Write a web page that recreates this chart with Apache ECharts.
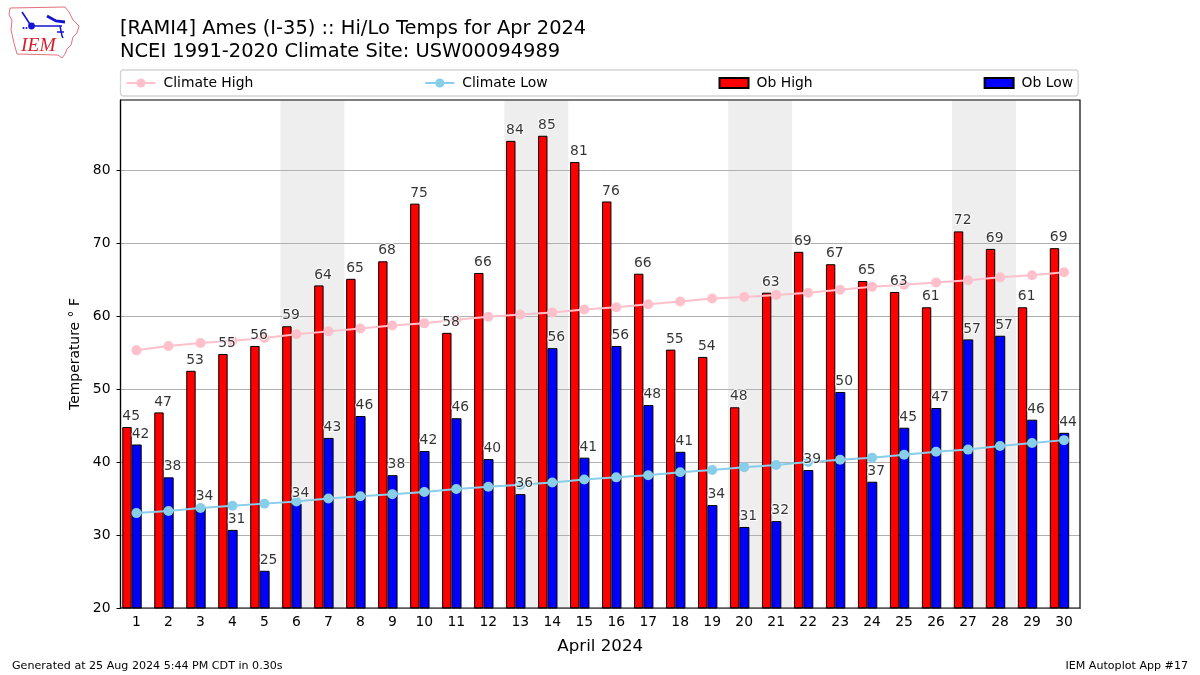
<!DOCTYPE html>
<html>
<head>
<meta charset="utf-8">
<style>html,body{margin:0;padding:0;background:#fff}#c{width:1200px;height:675px}</style>
<script src="https://cdn.jsdelivr.net/npm/echarts@6/dist/echarts.min.js"></script>
</head>
<body>
<div id="c"></div>
<script>
const days = [1,2,3,4,5,6,7,8,9,10,11,12,13,14,15,16,17,18,19,20,21,22,23,24,25,26,27,28,29,30];
const yTicks = [20,30,40,50,60,70,80];
const obHigh = [44.8,46.8,52.5,54.8,55.9,58.6,64.2,65.1,67.5,75.4,57.7,65.9,84.0,84.7,81.1,75.7,65.8,55.4,54.4,47.5,63.2,68.8,67.1,64.8,63.3,61.2,71.6,69.2,61.2,69.3];
const obLow = [42.4,37.9,33.8,30.7,25.1,34.3,43.3,46.3,38.2,41.5,46.0,40.4,35.6,55.6,40.6,55.9,47.8,41.4,34.1,31.1,31.9,38.9,49.6,37.3,44.7,47.4,56.8,57.3,45.8,44.0];
const climateHigh = [55.3,55.9,56.3,56.6,57.0,57.5,57.9,58.3,58.7,59.0,59.5,59.9,60.2,60.5,60.9,61.2,61.6,62.0,62.4,62.6,62.9,63.2,63.6,64.0,64.3,64.6,64.9,65.3,65.6,66.0];
const climateLow = [33.0,33.3,33.7,34.0,34.3,34.6,35.0,35.3,35.6,35.9,36.3,36.6,36.9,37.2,37.6,37.9,38.2,38.6,38.9,39.3,39.6,40.0,40.3,40.6,41.0,41.4,41.7,42.2,42.6,43.0];
const weekends = [[5.5,7.5],[12.5,14.5],[19.5,21.5],[26.5,28.5]];
const titleText = "[RAMI4] Ames (I-35) :: Hi/Lo Temps for Apr 2024\nNCEI 1991-2020 Climate Site: USW00094989";
const yName = "Temperature ° F";
const footerLeft = "Generated at 25 Aug 2024 5:44 PM CDT in 0.30s";
const footerRight = "IEM Autoplot App #17";

const FONT = "DejaVu Sans";
const chart = echarts.init(document.getElementById('c'), null, {renderer:'canvas'});
const labelSeries = (name, data, dx) => ({
  name, type:'scatter', data, symbol:'circle', symbolSize:1, z:6, silent:true,
  itemStyle:{color:'rgba(0,0,0,0)'},
  label:{show:true, position:[dx,-17], color:'#000', fontFamily:FONT, fontSize:13.9,
    textBorderColor:'#fff', textBorderWidth:2, formatter:p=>String(Math.round(p.value))}
});
const logoRed = '#e2707a', logoBlue = '#1414d2';
const rectIcon = 'path://M0,0H29V10H0Z';
chart.setOption({
  animation:false,
  title:[
    {text:titleText,left:120,top:18,padding:0,textStyle:{fontFamily:FONT,fontWeight:'normal',fontSize:19.45,lineHeight:22.5,color:'#000'}},
    {text:footerLeft,left:12,top:661,padding:0,textStyle:{fontFamily:FONT,fontWeight:'normal',fontSize:11.1,color:'#000'}},
    {text:footerRight,right:12,top:661,padding:0,textStyle:{fontFamily:FONT,fontWeight:'normal',fontSize:11.1,color:'#000'}}
  ],
  legend:{
    data:[{name:'Climate High'},{name:'Climate Low'},{name:'Ob High',icon:rectIcon},{name:'Ob Low',icon:rectIcon}],
    left:120.5,top:70,padding:[6,5,6,5],
    itemGap:171,itemWidth:29,itemHeight:11.25,
    borderColor:'#d4d4d4',borderWidth:1.3,borderRadius:3,backgroundColor:'#fff',
    textStyle:{fontFamily:FONT,fontSize:13.9,color:'#000',padding:[0,0,0,3]}
  },
  grid:{left:120.5,top:100,width:959.5,height:508,show:false},
  xAxis:[
    {type:'category',data:days,
     name:'April 2024',nameLocation:'middle',nameGap:30,nameTextStyle:{fontFamily:FONT,fontSize:16.66,color:'#000'},
     axisLine:{lineStyle:{color:'#000',width:1.2}},
     axisTick:{alignWithLabel:true,length:4,lineStyle:{color:'#000',width:1}},
     axisLabel:{interval:0,fontFamily:FONT,fontSize:13.9,color:'#000',margin:7},
     splitLine:{show:false}},
    {type:'value',min:0.5,max:30.5,show:false,position:'top',
     axisLine:{show:false},axisTick:{show:false},axisLabel:{show:false},splitLine:{show:false}}
  ],
  yAxis:{type:'value',min:20,max:89.6,z:1,
    name:yName,nameLocation:'middle',nameGap:38,
    nameTextStyle:{fontFamily:FONT,fontSize:13.9,color:'#000'},
    axisLine:{show:true,lineStyle:{color:'#000',width:1.2}},
    axisTick:{show:true,length:4,customValues:yTicks,lineStyle:{color:'#000',width:1}},
    axisLabel:{fontFamily:FONT,fontSize:13.9,color:'#000',margin:10,customValues:yTicks},
    splitLine:{show:true,lineStyle:{color:'#b0b0b0',width:1}}},
  graphic:[
    {type:'rect',shape:{x:120.5,y:100,width:959.5,height:508},z:10,silent:true,
     style:{fill:'none',stroke:'#000',lineWidth:1.2}},
    {type:'polygon',silent:true,z:10,shape:{points:[[10,8],[65,7],[69,12],[73,20],[79,26],[77,33],[73,37],[71,45],[67,49],[65,54],[62,58],[58,55],[17,54],[14,43],[11,30],[12,20],[9,15]]},
     style:{fill:'#fff',stroke:logoRed,lineWidth:1}},
    {type:'text',silent:true,z:11,style:{text:'IEM',x:21,y:36,fill:'#d81e2c',font:'italic 19.5px "Liberation Serif"'}},
    {type:'polyline',silent:true,z:11,shape:{points:[[22,12],[26,18],[31,26],[62,26]]},style:{stroke:logoBlue,fill:'none',lineWidth:1.6}},
    {type:'polyline',silent:true,z:11,shape:{points:[[47,16],[56,21],[65,22]]},style:{stroke:logoBlue,fill:'none',lineWidth:2.8}},
    {type:'polyline',silent:true,z:11,shape:{points:[[60,26],[62,36],[63,38]]},style:{stroke:logoBlue,fill:'none',lineWidth:1.5}},
    {type:'polyline',silent:true,z:11,shape:{points:[[57,32],[64,32]]},style:{stroke:logoBlue,fill:'none',lineWidth:1.5}},
    {type:'circle',silent:true,z:11,shape:{cx:31.5,cy:26,r:3.4},style:{fill:logoBlue}},
    {type:'circle',silent:true,z:11,shape:{cx:23.5,cy:28,r:1.1},style:{fill:logoBlue}},
    {type:'circle',silent:true,z:11,shape:{cx:26.5,cy:28,r:1},style:{fill:logoBlue}}
  ],
  series:[
    {name:'Weekend',type:'line',xAxisIndex:1,data:[],silent:true,symbol:'none',z:0,
     markArea:{silent:true,z:0,itemStyle:{color:'#eeeeee'},
       data:weekends.map(w=>[{xAxis:w[0]},{xAxis:w[1]}])}},
    {name:'Ob High',type:'bar',data:obHigh,barWidth:9.4,barGap:0,
     itemStyle:{color:'#ff0000',borderColor:'#000',borderWidth:1}},
    {name:'Ob Low',type:'bar',data:obLow,barWidth:10,barGap:0,
     itemStyle:{color:'#0000ff',borderColor:'#000',borderWidth:1}},
    {name:'offset',type:'bar',data:[],barWidth:9,barGap:0,silent:true},
    {name:'Climate High',type:'line',data:climateHigh,symbol:'circle',symbolSize:10,
     lineStyle:{color:'#ffc0cb',width:2},itemStyle:{color:'#ffc0cb'}},
    {name:'Climate Low',type:'line',data:climateLow,symbol:'circle',symbolSize:10,
     lineStyle:{color:'#87ceeb',width:2},itemStyle:{color:'#87ceeb'}},
    labelSeries('Ob High labels',obHigh,-13.7),
    labelSeries('Ob Low labels',obLow,-4.3)
  ]
});
</script>
</body>
</html>
